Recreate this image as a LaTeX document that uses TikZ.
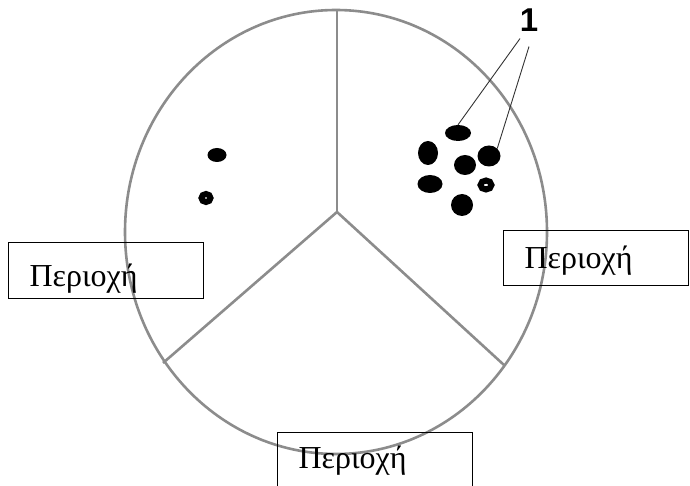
\documentclass[tikz,border=0pt]{standalone}
\usepackage{fontspec}
\setmainfont{Liberation Serif}
\newfontfamily\numfont{Liberation Sans}
\usetikzlibrary{shapes.geometric}

\tikzset{
  dish/.style={draw=black!45, line width=2.6pt},
  region/.style={draw=black, line width=1.2pt, anchor=north west,
    inner xsep=21pt, inner ysep=0pt, align=left,
    font=\fontsize{32}{32}\selectfont},
  spot/.style={ellipse, fill=black, inner sep=0pt},
  ring/.style={ellipse, draw=black, fill=white, line width=6pt, inner sep=0pt},
  leader/.style={draw=black!80, line width=0.9pt},
}

\begin{document}
\begin{tikzpicture}[x=1pt, y=-1pt]

  \path[use as bounding box, clip] (0,0) rectangle (690,486);

  % ================================================================
  % Dish and its three sectors
  % ================================================================

  \draw[dish] (336,232) ellipse [x radius=211, y radius=222];

  \coordinate (hub)   at (337,212);
  \coordinate (top)   at (337,10);
  \coordinate (left)  at (163,363);
  \coordinate (right) at (504,365);

  \draw[dish] (hub) -- (top);
  \draw[dish] (hub) -- (left);
  \draw[dish] (hub) -- (right);

  % ================================================================
  % Spots, left sector
  % ================================================================

  \node[spot, minimum width=19, minimum height=14] (la) at (217,155) {};
  \node[ring, minimum width=9, minimum height=8] (lb) at (206,198) {};

  % ================================================================
  % Spots, right sector
  % ================================================================

  \node[spot, minimum width=26, minimum height=16] (ra) at (458,133) {};
  \node[spot, minimum width=20, minimum height=24] (rb) at (428,153) {};
  \node[spot, minimum width=22, minimum height=20] (rc) at (465,165) {};
  \node[spot, minimum width=23, minimum height=21] (rd) at (489,156) {};
  \node[spot, minimum width=25, minimum height=18] (re) at (430,184) {};
  \node[ring, minimum width=11, minimum height=9] (rf) at (486,185) {};
  \node[spot, minimum width=22, minimum height=22] (rg) at (462,205) {};

  % ================================================================
  % Label 1 and its leaders
  % ================================================================

  \node[inner sep=0pt, font=\numfont\bfseries\fontsize{33}{33}\selectfont]
    (one) at (529,20) {1};

  \draw[leader] ([xshift=-9pt, yshift=-7pt]one.south) -- (ra.north);
  \draw[leader] ([yshift=-15pt]one.south) -- (rd.north east);

  % ================================================================
  % Region boxes
  % ================================================================

  \node[region, text width=153pt, text height=44pt, text depth=12pt]
    (regA) at (8,242) {Περιοχή};
  \node[region, text width=143pt, text height=38pt, text depth=17pt]
    (regB) at (503,230) {Περιοχή};
  \node[region, text width=153pt, text height=36pt, text depth=24pt]
    (regC) at (277,432) {Περιοχή};

\end{tikzpicture}
\end{document}
